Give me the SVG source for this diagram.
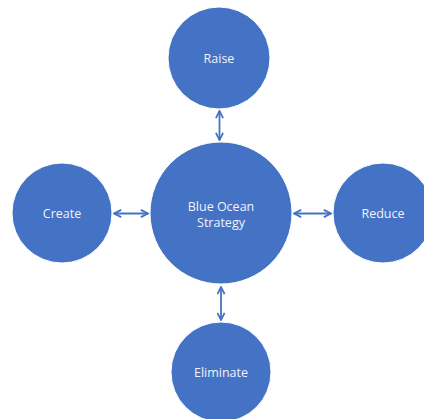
<svg xmlns="http://www.w3.org/2000/svg" width="424" height="419" viewBox="0 0 424 419">
<defs>
<style>
.n{fill:#4472C4;stroke:#ffffff;stroke-width:1}
.t{fill:#F0F4FB;font-family:"Open Sans","Liberation Sans",sans-serif;font-size:12.5px;text-anchor:middle;dominant-baseline:central}
.c{stroke:#4472C4;stroke-width:1.8;fill:none;marker-start:url(#a);marker-end:url(#a)}
</style>
<marker id="a" viewBox="0 0 10 10" refX="9" refY="5" markerWidth="5" markerHeight="5" orient="auto-start-reverse" markerUnits="strokeWidth">
<polyline points="1,1 9,5 1,9" fill="none" stroke="#4472C4" stroke-width="2"/>
</marker>
</defs>
<rect width="424" height="419" fill="#ffffff"/>
<g id="connectors">
<line class="c" x1="219.5" y1="111" x2="219.5" y2="140"/>
<line class="c" x1="114" y1="213.5" x2="148" y2="213.5"/>
<line class="c" x1="294" y1="213.5" x2="331" y2="213.5"/>
<line class="c" x1="221" y1="287" x2="221" y2="320"/>
</g>
<g id="center"><circle class="n" cx="221" cy="213" r="71"/><text class="t" x="221" y="206">Blue Ocean</text><text class="t" x="221" y="222">Strategy</text></g>
<g id="raise"><circle class="n" cx="219" cy="58" r="51"/><text class="t" x="219" y="58">Raise</text></g>
<g id="create"><circle class="n" cx="62" cy="213" r="50"/><text class="t" x="62" y="213">Create</text></g>
<g id="reduce"><circle class="n" cx="383" cy="213" r="50"/><text class="t" x="383" y="213">Reduce</text></g>
<g id="eliminate"><circle class="n" cx="221" cy="372" r="50"/><text class="t" x="221" y="372">Eliminate</text></g>
</svg>
